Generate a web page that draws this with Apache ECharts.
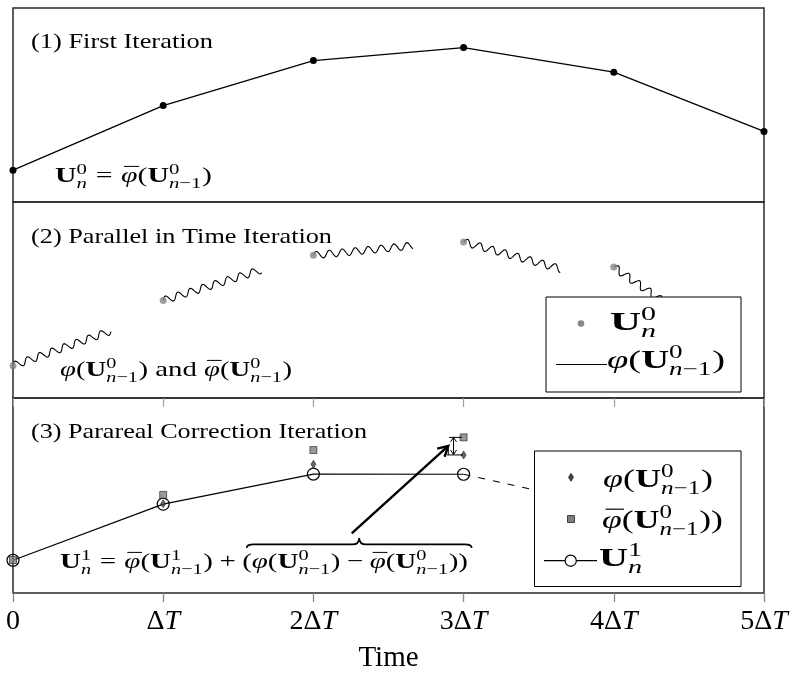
<!DOCTYPE html>
<html><head><meta charset="utf-8">
<script src="https://cdn.jsdelivr.net/npm/echarts@6/dist/echarts.min.js"></script>
<style>html,body{margin:0;padding:0;background:#fff}#c{width:791px;height:675px}</style>
</head><body><div id="c"></div>
<script>
// ---------------- data ----------------
const tickLabels = ['0', 'ΔT', '2ΔT', '3ΔT', '4ΔT', '5ΔT'];
const timeSteps = [0, 1, 2, 3, 4, 5];
// (1) first (coarse) iteration U^0_n
const firstIteration = [1.64, 4.97, 7.29, 7.96, 6.69, 3.64];
// (2) starting values U^0_n and end points of the fine propagations
const startTimes = [0, 1, 2, 3, 4];
const startValues = [1.65, 4.98, 7.28, 7.96, 6.68];
const fineEndTimes = [0.65, 1.65, 2.66, 3.65, 4.65];
const fineEndValues = [3.42, 6.53, 7.77, 6.58, 3.20];
// (3) parareal correction
const correctedTimes = [0, 1, 2, 3];
const correctedValues = [1.68, 4.56, 6.10, 6.09];
const nextTimes = [3, 4];
const nextValues = [6.09, 4.39];
const fineTimes = [1, 2, 3];
const fineValues = [4.58, 6.60, 7.08];
const coarseTimes = [0, 1, 2, 3];
const coarseValues = [1.69, 5.03, 7.33, 7.98];
// annotations in data coordinates (x in ΔT, y in panel units)
const bigArrow = [[2.255, 3.06, 2.898, 7.54]];
const diffArrow = [[2.933, 7.98, 2.933, 7.10]];
const diffGuides = [[2.903, 7.98, 2.99, 7.98], [2.89, 7.08, 2.995, 7.08], [2.898, 7.54, 2.898, 7.08]];
const braceSpan = [[1.556, 3.054, 2.31]];

// ---------------- math text helper ----------------
const FF = 'Liberation Serif';
const mctx = document.createElement('canvas').getContext('2d');
function mw(t, size, st) {
  mctx.font = (st === 'i' ? 'italic ' : '') + (st === 'b' ? 'bold ' : '') + size + 'px "' + FF + '"';
  return mctx.measureText(t).width;
}
const MID = 0.34;
function txt(t, size, st, x, base) {
  return { type: 'text', x: x, y: base - MID * size, z: 101,
    style: { text: t, fontFamily: FF, fontSize: size, fontStyle: st === 'i' ? 'italic' : 'normal',
      fontWeight: st === 'b' ? 'bold' : 'normal', fill: '#000', align: 'left', verticalAlign: 'middle' } };
}
const R = t => ({ t, st: 'r' }), I = t => ({ t, st: 'i' }), B = t => ({ t, st: 'b' });
const SP = e => ({ sp: e });
const SC = (sup, sub) => ({ sup, sub });
function layoutMath(tokens, S) {
  const kids = []; let x = 0;
  const run = (list, size, base, x0) => {
    let xx = x0;
    list.forEach(k => {
      const w = mw(k.t, size, k.st);
      kids.push(txt(k.t, size, k.st, xx, base));
      if (k.bar) kids.push({ type: 'line', z: 101,
        shape: { x1: xx + 0.1 * size, y1: base - 0.8 * size, x2: xx + w + 0.06 * size, y2: base - 0.8 * size },
        style: { stroke: '#000', lineWidth: Math.max(1, size * 0.045) } });
      xx += w;
    });
    return xx - x0;
  };
  tokens.forEach(k => {
    if (k.sp != null) { x += k.sp * S; return; }
    if (k.sup) {
      const s = 0.7 * S;
      const a = run(k.sup, s, -0.42 * S, x);
      const b = run(k.sub, s, 0.25 * S, x);
      x += Math.max(a, b) + 0.02 * S; return;
    }
    x += run([k], S, 0, x);
  });
  return { kids, width: x };
}
function mathGroup(tokens, S, left, right, base) {
  const m = layoutMath(tokens, S);
  return { type: 'group', x: left, y: base, scaleX: (right - left) / m.width, z: 101, children: m.kids };
}
const U0n = [B('U'), SC([R('0')], [I('n')])];
const U0nm1 = [B('U'), SC([R('0')], [I('n'), R('−1')])];
const U1n = [B('U'), SC([R('1')], [I('n')])];
const U1nm1 = [B('U'), SC([R('1')], [I('n'), R('−1')])];
const phi = I('φ'), phibar = Object.assign(I('φ'), { bar: true });

const formula1 = [...U0n, SP(.28), R('='), SP(.28), phibar, R('('), ...U0nm1, R(')')];
const formula2 = [phi, R('('), ...U0nm1, R(')'), SP(.25), R('and'), SP(.25), phibar, R('('), ...U0nm1, R(')')];
const formula3 = [...U1n, SP(.28), R('='), SP(.28), phibar, R('('), ...U1nm1, R(')'), SP(.22), R('+'), SP(.22),
  R('('), phi, R('('), ...U0nm1, R(')'), SP(.22), R('−'), SP(.22), phibar, R('('), ...U0nm1, R(')'), R(')')];

// ---------------- chart ----------------
const chart = echarts.init(document.getElementById('c'), null, { renderer: 'canvas' });
const gridBase = { left: 13, right: 27, show: true, borderColor: '#2a2a2a', borderWidth: 1.5, backgroundColor: 'transparent' };
const WAVE_LEN = 13, WAVE_AMP = 3.6;

function wave(params, api) {
  const p0 = api.coord([api.value(0), api.value(1)]);
  const p1 = api.coord([api.value(2), api.value(3)]);
  const dx = p1[0] - p0[0], dy = p1[1] - p0[1], L = Math.hypot(dx, dy);
  const ux = dx / L, uy = dy / L, nx = uy, ny = -ux;
  const pts = [], N = Math.ceil(L);
  for (let i = 0; i <= N; i++) {
    const s = L * i / N, a = WAVE_AMP * Math.sin(2 * Math.PI * s / WAVE_LEN);
    pts.push([p0[0] + ux * s + nx * a, p0[1] + uy * s + ny * a]);
  }
  return { type: 'polyline', shape: { points: pts }, style: { stroke: '#000', lineWidth: 1.1, fill: 'none' } };
}
function head(tip, from, hl, hw, lw) {
  const dx = tip[0] - from[0], dy = tip[1] - from[1], L = Math.hypot(dx, dy), ux = dx / L, uy = dy / L;
  return { type: 'polyline', shape: { points: [
    [tip[0] - ux * hl + uy * hw, tip[1] - uy * hl - ux * hw], [tip[0], tip[1]],
    [tip[0] - ux * hl - uy * hw, tip[1] - uy * hl + ux * hw]] },
    style: { stroke: '#000', lineWidth: lw, fill: 'none' } };
}
function arrowRender(lw, hl, hw, both) {
  return (params, api) => {
    const p0 = api.coord([api.value(0), api.value(1)]), p1 = api.coord([api.value(2), api.value(3)]);
    const ch = [{ type: 'line', shape: { x1: p0[0], y1: p0[1], x2: p1[0], y2: p1[1] }, style: { stroke: '#000', lineWidth: lw } },
      head(p1, p0, hl, hw, lw)];
    if (both) ch.push(head(p0, p1, hl, hw, lw));
    return { type: 'group', children: ch };
  };
}
function braceRender(params, api) {
  const a = api.coord([api.value(0), api.value(2)]), b = api.coord([api.value(1), api.value(2)]);
  const L = a[0], Rr = b[0], y = a[1], M = (L + Rr) / 2, h1 = 3.5, h2 = 10, r = 7;
  const d = `M${L},${y} Q${L},${y - h1} ${L + r},${y - h1} L${M - r},${y - h1} Q${M},${y - h1} ${M},${y - h2} ` +
    `Q${M},${y - h1} ${M + r},${y - h1} L${Rr - r},${y - h1} Q${Rr},${y - h1} ${Rr},${y}`;
  return { type: 'path', shape: { pathData: d }, style: { stroke: '#000', lineWidth: 1.7, fill: 'none' } };
}
const xCommon = { type: 'value', min: 0, max: 5, interval: 1, splitLine: { show: false }, axisLine: { show: false } };

const option = {
  animation: false,
  grid: [
    Object.assign({ top: 8, height: 194 }, gridBase),
    Object.assign({ top: 202, height: 196 }, gridBase),
    Object.assign({ top: 398, height: 195 }, gridBase)
  ],
  xAxis: [
    Object.assign({ gridIndex: 0, show: false }, xCommon),
    Object.assign({ gridIndex: 1, position: 'top', axisLabel: { show: false },
      axisTick: { inside: true, length: 9, lineStyle: { color: '#a0a0a0', width: 1.2 } } }, xCommon),
    Object.assign({ gridIndex: 2, position: 'top', axisLabel: { show: false },
      axisTick: { inside: true, length: 9, lineStyle: { color: '#a0a0a0', width: 1.2 } } }, xCommon),
    Object.assign({ gridIndex: 2, position: 'bottom',
      axisTick: { inside: false, length: 9, lineStyle: { color: '#8a8a8a', width: 1.2 } },
      axisLabel: { margin: 15, color: '#000', fontFamily: FF, fontSize: 28,
        formatter: v => { const s = tickLabels[Math.round(v)]; return s.endsWith('T') ? '{n|' + s.slice(0, -1) + '}{i|T}' : '{n|' + s + '}'; },
        rich: { n: { fontFamily: FF, fontSize: 28, color: '#000' }, i: { fontFamily: FF, fontSize: 28, fontStyle: 'italic', color: '#000' } } },
      name: 'Time', nameLocation: 'middle', nameGap: 51,
      nameTextStyle: { fontFamily: FF, fontSize: 29, color: '#000' } }, xCommon)
  ],
  yAxis: [0, 1, 2].map(g => ({ type: 'value', gridIndex: g, min: 0, max: 10, show: false })),
  series: [
    { type: 'line', xAxisIndex: 0, yAxisIndex: 0, clip: false,
      data: timeSteps.map((t, i) => [t, firstIteration[i]]),
      symbol: 'circle', symbolSize: 7, itemStyle: { color: '#000' }, lineStyle: { color: '#000', width: 1.3 } },
    { type: 'custom', xAxisIndex: 1, yAxisIndex: 1, renderItem: wave, encode: { x: [0, 2], y: [1, 3] },
      data: startTimes.map((t, i) => [t, startValues[i], fineEndTimes[i], fineEndValues[i]]) },
    { type: 'scatter', xAxisIndex: 1, yAxisIndex: 1, z: 3, symbolSize: 7, itemStyle: { color: '#878787' },
      data: startTimes.map((t, i) => [t, startValues[i]]) },
    { type: 'line', xAxisIndex: 3, yAxisIndex: 2, clip: false, symbol: 'none',
      data: nextTimes.map((t, i) => [t, nextValues[i]]),
      lineStyle: { color: '#000', width: 1.1, type: [7, 8] } },
    { type: 'line', xAxisIndex: 3, yAxisIndex: 2, clip: false,
      data: correctedTimes.map((t, i) => [t, correctedValues[i]]),
      symbol: 'circle', symbolSize: 12, itemStyle: { color: 'rgba(255,255,255,0)', borderColor: '#000', borderWidth: 1.2 },
      lineStyle: { color: '#000', width: 1.2 } },
    { type: 'scatter', xAxisIndex: 3, yAxisIndex: 2, z: 4, symbol: 'rect', symbolSize: 7,
      itemStyle: { color: '#7f7f7f', borderColor: '#222', borderWidth: 0.8 },
      data: coarseTimes.map((t, i) => [t, coarseValues[i]]) },
    { type: 'scatter', xAxisIndex: 3, yAxisIndex: 2, z: 5, symbol: 'diamond', symbolSize: [5, 8],
      itemStyle: { color: '#444', borderColor: '#000', borderWidth: 0.6 },
      data: fineTimes.map((t, i) => [t, fineValues[i]]) },
    { type: 'custom', xAxisIndex: 3, yAxisIndex: 2, z: 6, renderItem: arrowRender(2.4, 10, 5.5, false),
      encode: { x: [0, 2], y: [1, 3] }, data: bigArrow },
    { type: 'custom', xAxisIndex: 3, yAxisIndex: 2, z: 6, renderItem: arrowRender(1, 4.5, 3, true),
      encode: { x: [0, 2], y: [1, 3] }, data: diffArrow },
    { type: 'custom', xAxisIndex: 3, yAxisIndex: 2, z: 6, renderItem: arrowRender(1, 0.01, 0, false),
      encode: { x: [0, 2], y: [1, 3] }, data: diffGuides },
    { type: 'custom', xAxisIndex: 3, yAxisIndex: 2, z: 6, renderItem: braceRender,
      encode: { x: [0, 1], y: [2] }, data: braceSpan }
  ],
  graphic: [
    // titles and formulas
    mathGroup([R('(1) First Iteration')], 22, 31, 213, 50),
    mathGroup(formula1, 22, 55, 212, 184),
    mathGroup([R('(2) Parallel in Time Iteration')], 22, 31, 332, 245),
    mathGroup(formula2, 22, 60, 292, 378),
    mathGroup([R('(3) Parareal Correction Iteration')], 22, 31, 367, 440),
    mathGroup(formula3, 22, 60, 468, 570),
    // legend of panel 2
    { type: 'rect', z: 90, shape: { x: 546, y: 297, width: 195, height: 95 }, style: { fill: '#fff', stroke: '#000', lineWidth: 1 } },
    { type: 'circle', z: 100, shape: { cx: 581, cy: 323.5, r: 3.3 }, style: { fill: '#878787' } },
    { type: 'line', z: 100, shape: { x1: 556, y1: 364.5, x2: 607, y2: 364.5 }, style: { stroke: '#000', lineWidth: 1 } },
    mathGroup(U0n, 26, 610, 657, 332),
    mathGroup([phi, R('('), ...U0nm1, R(')')], 26, 607, 725, 370),
    // legend of panel 3
    { type: 'rect', z: 90, shape: { x: 534.5, y: 451, width: 206.5, height: 135.5 }, style: { fill: '#fff', stroke: '#000', lineWidth: 1 } },
    { type: 'polygon', z: 100, shape: { points: [[571, 473.3], [573.5, 477.3], [571, 481.3], [568.5, 477.3]] }, style: { fill: '#444', stroke: '#000', lineWidth: 0.6 } },
    { type: 'rect', z: 100, shape: { x: 567.5, y: 515.5, width: 7, height: 7 }, style: { fill: '#7f7f7f', stroke: '#222', lineWidth: 0.8 } },
    { type: 'line', z: 100, shape: { x1: 544, y1: 560.7, x2: 597, y2: 560.7 }, style: { stroke: '#000', lineWidth: 1.2 } },
    { type: 'circle', z: 101, shape: { cx: 570.7, cy: 560.7, r: 5.6 }, style: { fill: '#fff', stroke: '#000', lineWidth: 1.2 } },
    mathGroup([phi, R('('), ...U0nm1, R(')')], 26, 603, 713, 489),
    mathGroup([phibar, R('('), ...U0nm1, R(')'), R(')')], 26, 602, 723, 530),
    mathGroup(U1n, 26, 599, 643, 568)
  ]
};
chart.setOption(option);
</script>
</body></html>
